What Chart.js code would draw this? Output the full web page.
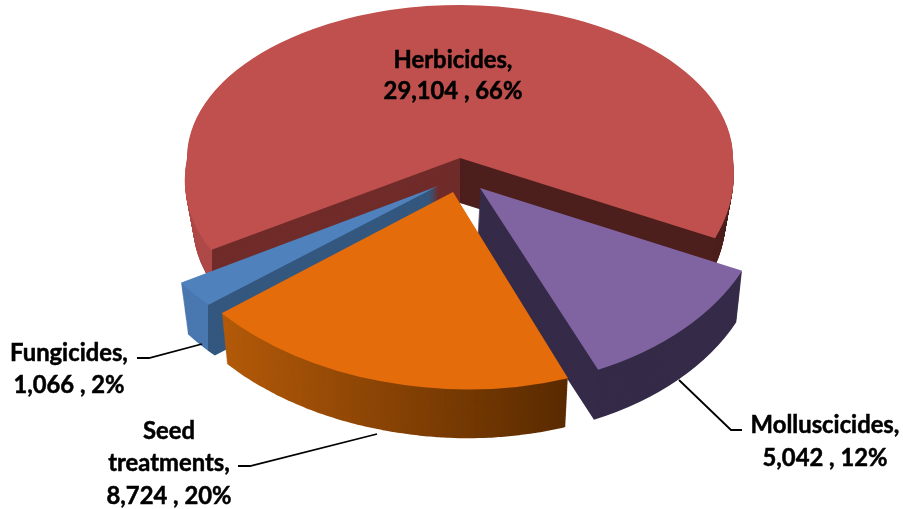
<!DOCTYPE html>
<html>
<head>
<meta charset="utf-8">
<style>
  html, body { margin: 0; padding: 0; background: #fff; }
  canvas { display: block; }
</style>
<script src="https://cdn.jsdelivr.net/npm/chart.js@4/dist/chart.umd.min.js"></script>
</head>
<body>
<canvas id="pie" width="903" height="509"></canvas>
<script>
const categories = ["Herbicides", "Molluscicides", "Seed treatments", "Fungicides"];
const amounts = [29104, 5042, 8724, 1066];
const percents = ["66%", "12%", "20%", "2%"];
const topColors = ["#c0504d", "#8064a2", "#e46c0a", "#4f81bd"];

// how each slice is projected: origin + 2x2 matrix (a b / c d), wall height, taper and sideways lean
const sliceViews = [
  {
    e: 460, f: 158, depth: 45, taper: 0.03, lean: 0,
    patches: [
      { part: "top", a: 273, b: 0, c: 0, d: 153 },
      { part: "left", a: 273, b: -35, c: 0, d: 171 },
      { part: "right", a: 273, b: 22, c: 0, d: 183 },
    ],
    walls: [
      [0, 212, "#ae4a48"],
      [212, 460, "#702c2a"],
      [460, 903, "#4d1f1d"],
    ],
  },
  {
    e: 480, f: 188, depth: 52, taper: 0.01, lean: -3,
    patches: [{ part: "all", a: 288, b: 7.5, c: -5, d: 199 }],
    walls: [[0, 903, "#352b48"]],
  },
  {
    e: 453, f: 192, depth: 53, taper: 0.022, lean: 0,
    patches: [{ part: "all", a: 305, b: -3, c: 11.5, d: 197 }],
    walls: shadeBands(222, 568, [179, 90, 10], [90, 43, 0], 70),
  },
  {
    e: 438, f: 186, depth: 54, taper: 0.027, lean: 0,
    patches: [{ part: "all", a: 305, b: 0, c: 0, d: 180 }],
    walls: [
      [0, 208, "#4a78b0"],
      [208, 903, "#34587f"],
    ],
  },
];
const paintOrder = [0, 1, 3, 2];

const labelLines = [
  [categories[0] + ",", `${fmt(amounts[0])} , ${percents[0]}`],
  [categories[1] + ",", `${fmt(amounts[1])} , ${percents[1]}`],
  ["Seed", "treatments,", `${fmt(amounts[2])} , ${percents[2]}`],
  [categories[3] + ",", `${fmt(amounts[3])} , ${percents[3]}`],
];
const labelSpots = [
  { x: 453, y: 60, gap: 31.5 },
  { x: 825, y: 425, gap: 33 },
  { x: 169, y: 431, gap: 32.5 },
  { x: 69, y: 353, gap: 32 },
];
const leaders = [
  null,
  [[742, 430], [731, 430], [679, 380]],
  [[238, 466], [250, 466], [377, 434]],
  [[137, 358], [149, 358], [202, 344]],
];

function fmt(n) {
  return n.toLocaleString("en-US");
}

function shadeBands(x0, x1, from, to, count) {
  const bands = [];
  const w = (x1 - x0) / count;
  for (let i = 0; i < count; i++) {
    const t = i / (count - 1);
    const rgb = from.map((v, k) => Math.round(v + (to[k] - v) * t));
    const left = i === 0 ? 0 : Math.round(x0 + i * w);
    const right = i === count - 1 ? 903 : Math.round(x0 + (i + 1) * w);
    bands.push([left, right, `rgb(${rgb.join(",")})`]);
  }
  return bands;
}

function drawSliceLayer(ctx, arc, view, color, t) {
  const ghost = Object.create(arc);
  ghost.options = { ...arc.options, backgroundColor: color };
  const R = arc.outerRadius;
  const k = (1 - view.taper * t) / R;
  for (const p of view.patches) {
    const a = p.a * k, b = p.b * k, c = p.c * k, d = p.d * k;
    ctx.save();
    ctx.transform(
      a, c, b, d,
      view.e + view.lean * t - a * arc.x - b * arc.y,
      view.f + view.depth * t - c * arc.x - d * arc.y
    );
    // patches only meet on the horizontal through the slice centre
    if (p.part !== "all") {
      ctx.beginPath();
      if (p.part === "top") ctx.rect(arc.x - R, arc.y - R, 2 * R, R + 0.6);
      if (p.part === "left") ctx.rect(arc.x - R * 1.2, arc.y, R * 1.2, R);
      if (p.part === "right") ctx.rect(arc.x, arc.y, R * 1.2, R);
      ctx.clip();
    }
    arc.draw.call(ghost, ctx);
    ctx.restore();
  }
}

const tiltedPie = {
  id: "tiltedPie",
  beforeDatasetDraw(chart, args) {
    const ctx = chart.ctx;
    const arcs = chart.getDatasetMeta(args.index).data;
    paintOrder.forEach((i) => {
      const view = sliceViews[i];
      for (const [x0, x1, color] of view.walls) {
        ctx.save();
        ctx.beginPath();
        ctx.rect(x0, 0, x1 - x0, 509);
        ctx.clip();
        for (let y = view.depth; y > 0; y--) {
          drawSliceLayer(ctx, arcs[i], view, color, y / view.depth);
        }
        ctx.restore();
      }
      drawSliceLayer(ctx, arcs[i], view, topColors[i], 0);
    });
    return false;
  },
  afterDatasetsDraw(chart) {
    const ctx = chart.ctx;
    ctx.save();
    ctx.strokeStyle = "#000";
    ctx.lineWidth = 1.8;
    leaders.forEach((pts) => {
      if (!pts) return;
      ctx.beginPath();
      pts.forEach(([x, y], i) => (i ? ctx.lineTo(x, y) : ctx.moveTo(x, y)));
      ctx.stroke();
    });
    ctx.fillStyle = "#000";
    ctx.lineWidth = 0.5;
    ctx.font = "bold 23.8px Lato";
    ctx.textAlign = "center";
    ctx.textBaseline = "middle";
    labelLines.forEach((lines, i) => {
      const spot = labelSpots[i];
      lines.forEach((line, n) => {
        ctx.fillText(line, spot.x, spot.y + n * spot.gap);
        ctx.strokeText(line, spot.x, spot.y + n * spot.gap);
      });
    });
    ctx.restore();
  },
};

new Chart(document.getElementById("pie"), {
  type: "pie",
  data: {
    labels: categories,
    datasets: [
      {
        data: amounts,
        backgroundColor: topColors,
        borderWidth: 0,
        rotation: 237.5,
      },
    ],
  },
  options: {
    responsive: false,
    animation: false,
    plugins: { legend: { display: false }, tooltip: { enabled: false } },
  },
  plugins: [tiltedPie],
});
</script>
</body>
</html>
